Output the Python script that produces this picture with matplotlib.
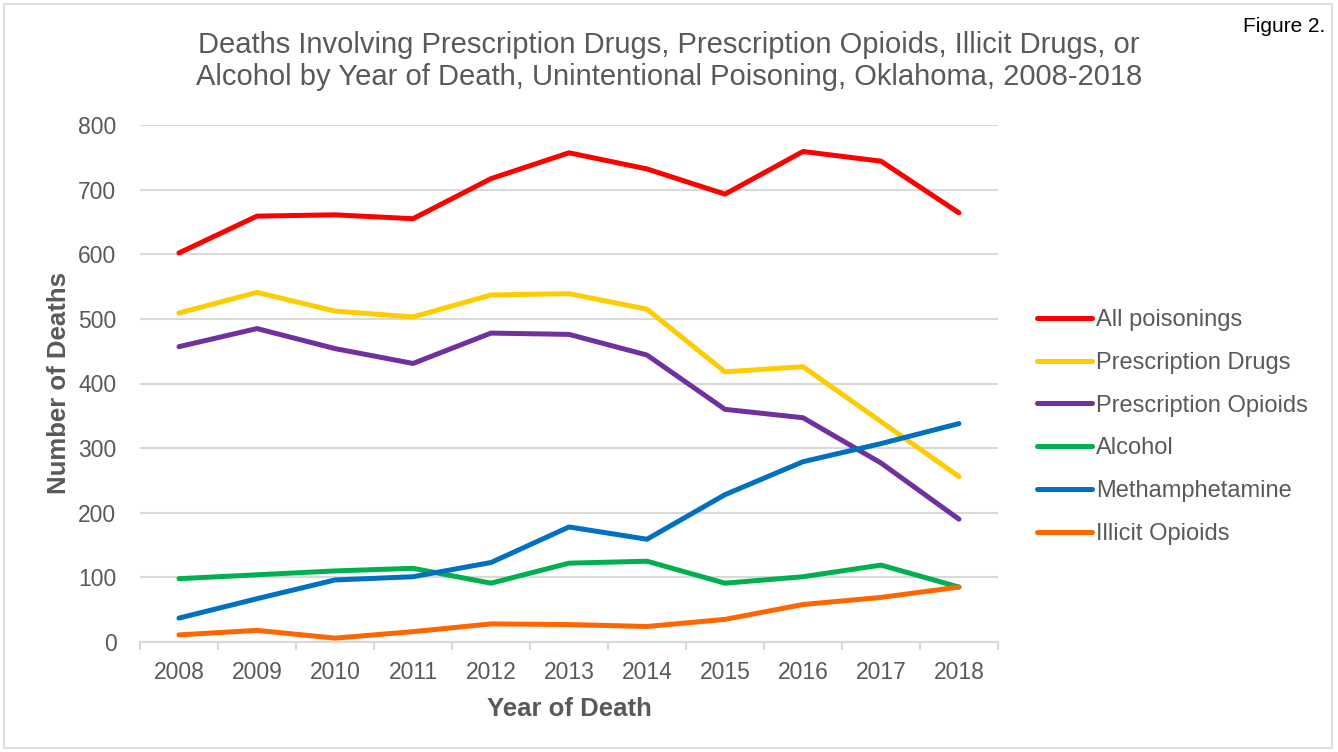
import matplotlib
matplotlib.use('Agg')
import matplotlib.pyplot as plt
from matplotlib.patches import Rectangle

plt.rcParams['font.family'] = ['Liberation Sans', 'DejaVu Sans']

years = ['2008', '2009', '2010', '2011', '2012', '2013', '2014', '2015', '2016', '2017', '2018']
all_poisonings = [602, 659, 661, 655, 717, 757, 732, 693, 759, 744, 664]
prescription_drugs = [509, 541, 512, 503, 537, 539, 515, 418, 426, 341, 256]
prescription_opioids = [457, 485, 454, 431, 478, 476, 444, 360, 347, 277, 190]
alcohol = [98, 104, 110, 114, 91, 122, 125, 91, 101, 119, 85]
methamphetamine = [37, 67, 96, 101, 123, 178, 159, 228, 279, 307, 338]
illicit_opioids = [11, 18, 6, 16, 28, 27, 24, 35, 58, 69, 85]

series = [
    ('All poisonings', all_poisonings, '#ff0000'),
    ('Prescription Drugs', prescription_drugs, '#ffcc00'),
    ('Prescription Opioids', prescription_opioids, '#7030a0'),
    ('Alcohol', alcohol, '#00b050'),
    ('Methamphetamine', methamphetamine, '#0070c0'),
    ('Illicit Opioids', illicit_opioids, '#ff6600'),
]

text_color = '#595959'
grid_color = '#d9d9d9'

fig = plt.figure(figsize=(13.38, 7.52), dpi=100)
ax = fig.add_axes([140 / 1338, 1 - 642 / 752, 858 / 1338, 517 / 752])

x = list(range(len(years)))
for name, vals, col in series:
    ax.plot(x, vals, color=col, linewidth=3.6, label=name, solid_capstyle='round')

ax.set_xlim(-0.5, len(years) - 0.5)
ax.set_ylim(0, 800)
ax.set_yticks(range(0, 801, 100))
ax.set_xticks(x)
ax.set_xticklabels(years)
ax.set_xticks([i - 0.5 for i in range(len(years) + 1)], minor=True)
ax.tick_params(axis='x', which='major', length=0, pad=14, labelsize=16.5, labelcolor=text_color)
ax.tick_params(axis='x', which='minor', length=6, color=grid_color, width=1.5)
ax.tick_params(axis='y', length=0, pad=17, labelsize=16.5, labelcolor=text_color)

ax.grid(axis='y', color=grid_color, linewidth=1.5)
ax.set_axisbelow(True)
for s in ['top', 'right', 'left']:
    ax.spines[s].set_visible(False)
ax.spines['bottom'].set_color(grid_color)
ax.spines['bottom'].set_linewidth(1.5)
ax.spines['bottom'].set_zorder(0.5)

ax.set_xlabel('Year of Death', fontsize=18.5, fontweight='bold', color=text_color, labelpad=9)
ax.set_ylabel('Number of Deaths', fontsize=18.5, fontweight='bold', color=text_color, labelpad=5)

fig.text(0.5, 1 - 61 / 752,
         'Deaths Involving Prescription Drugs, Prescription Opioids, Illicit Drugs, or\n'
         'Alcohol by Year of Death, Unintentional Poisoning, Oklahoma, 2008-2018',
         ha='center', va='center', fontsize=21, color=text_color, linespacing=1.2)
fig.text(1325 / 1338, 1 - 27 / 752, 'Figure 2.', ha='right', va='center', fontsize=15, color='black')

leg = ax.legend(loc='center left', bbox_to_anchor=(1037 / 1338, 1 - 427 / 752),
                bbox_transform=fig.transFigure, frameon=False, fontsize=17, borderpad=0,
                borderaxespad=0, handlelength=2.33, handletextpad=0.17, labelspacing=0.88)
for t in leg.get_texts():
    t.set_color(text_color)

fig.patches.append(Rectangle((4 / 1338, 4 / 752), 1328 / 1338, 744 / 752, transform=fig.transFigure,
                             fill=False, edgecolor=grid_color, linewidth=1.2))

fig.savefig('out.png', dpi=100)
